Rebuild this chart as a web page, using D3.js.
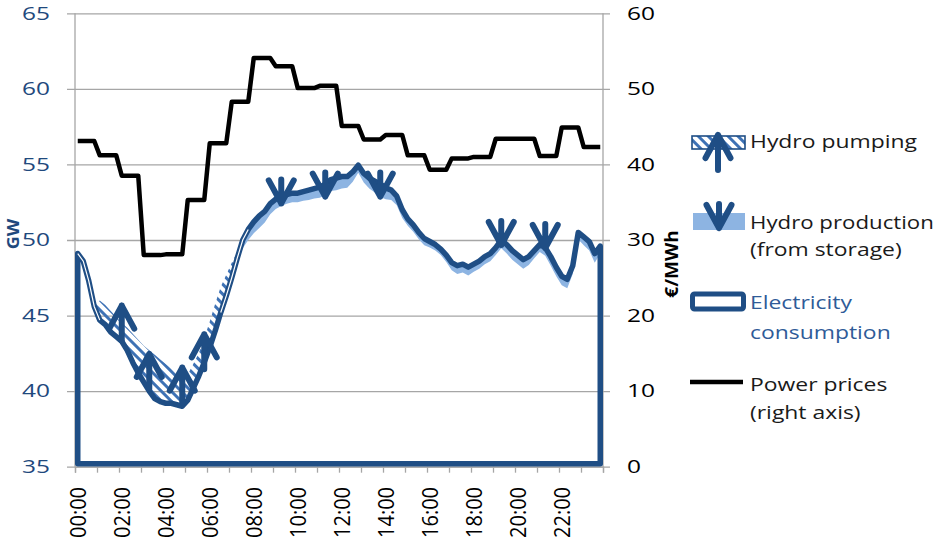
<!DOCTYPE html>
<html><head><meta charset="utf-8">
<script src="https://cdn.jsdelivr.net/npm/d3@7"></script>
<style>
body{margin:0;background:#fff}
svg{display:block}
text{font-family:"Open Sans","Noto Sans",sans-serif}
</style>
</head><body>
<svg id="c" width="937" height="550"></svg>
<script>
// ---------- DATA ----------
const categories = [
"00:00","00:15","00:30","00:45","01:00","01:15","01:30","01:45",
"02:00","02:15","02:30","02:45","03:00","03:15","03:30","03:45",
"04:00","04:15","04:30","04:45","05:00","05:15","05:30","05:45",
"06:00","06:15","06:30","06:45","07:00","07:15","07:30","07:45",
"08:00","08:15","08:30","08:45","09:00","09:15","09:30","09:45",
"10:00","10:15","10:30","10:45","11:00","11:15","11:30","11:45",
"12:00","12:15","12:30","12:45","13:00","13:15","13:30","13:45",
"14:00","14:15","14:30","14:45","15:00","15:15","15:30","15:45",
"16:00","16:15","16:30","16:45","17:00","17:15","17:30","17:45",
"18:00","18:15","18:30","18:45","19:00","19:15","19:30","19:45",
"20:00","20:15","20:30","20:45","21:00","21:15","21:30","21:45",
"22:00","22:15","22:30","22:45","23:00","23:15","23:30","23:45"];

// Electricity consumption (GW)
const consumption = [
49.1,48.6,47.3,45.6,44.7,44.4,43.9,43.6,43.3,42.7,
41.9,41.2,40.6,40.0,39.5,39.3,39.2,39.2,39.1,39.0,
39.4,40.2,41.0,41.9,42.9,44.0,45.2,46.3,47.5,48.8,
50.0,50.7,51.2,51.6,51.9,52.4,52.7,52.9,53.0,53.1,
53.1,53.2,53.3,53.4,53.5,53.7,54.0,54.1,54.2,54.2,
54.5,54.95,54.4,54.1,53.9,53.7,53.45,53.3,52.9,52.0,
51.4,51.0,50.5,50.1,49.9,49.7,49.4,49.0,48.5,48.3,
48.4,48.2,48.4,48.6,48.9,49.1,49.5,50.0,49.7,49.3,
49.0,48.7,48.9,49.3,49.7,49.5,48.9,48.2,47.6,47.4,
48.3,50.5,50.2,49.9,49.1,49.6];

// Hydro production from storage (GW, drawn below consumption)
const hydroProduction = [
0,0,0,0,0,0,0,0,0,0,
0,0,0,0,0,0,0,0,0,0,
0,0,0,0,0,0,0,0,0,0.2,
0.55,0.7,0.75,0.8,0.75,0.7,0.65,0.65,0.6,0.6,
0.6,0.6,0.65,0.65,0.7,0.75,0.75,0.8,0.8,0.75,
0.65,0.5,0.6,0.7,0.75,0.85,0.75,0.65,0.6,0.55,
0.45,0.45,0.45,0.45,0.4,0.4,0.4,0.45,0.5,0.55,
0.55,0.55,0.5,0.5,0.5,0.5,0.5,0.55,0.6,0.6,
0.6,0.6,0.55,0.5,0.5,0.55,0.6,0.6,0.6,0.6,
0.55,0.45,0.55,0.6,0.6,0.5];

// Hydro pumping (GW, drawn above consumption)
const hydroPumping = [
0,0,0,0,1.3,1.3,1.4,1.3,1.2,1.5,
1.9,2.2,2.4,2.7,2.9,2.8,2.6,2.3,2.0,1.8,
1.7,1.6,1.5,1.6,1.7,1.8,1.7,1.4,1.0,0.4,
0,0,0,0,0,0,0,0,0,0,
0,0,0,0,0,0,0,0,0,0,
0,0,0,0,0,0,0,0,0,0,
0,0,0,0,0,0,0,0,0,0,
0,0,0,0,0,0,0,0,0,0,
0,0,0,0,0,0,0,0,0,0,
0,0,0,0,0,0];

// Power prices (EUR/MWh, right axis)
const powerPrices = [
43.1,43.1,43.1,43.1, 41.2,41.2,41.2,41.2, 38.5,38.5,38.5,38.5,
28.0,28.0,28.0,28.0, 28.1,28.1,28.1,28.1, 35.3,35.3,35.3,35.3,
42.8,42.8,42.8,42.8, 48.3,48.3,48.3,48.3, 54.1,54.1,54.1,54.1,
53.0,53.0,53.0,53.0, 50.1,50.1,50.1,50.1, 50.4,50.4,50.4,50.4,
45.1,45.1,45.1,45.1, 43.3,43.3,43.3,43.3, 43.9,43.9,43.9,43.9,
41.2,41.2,41.2,41.2, 39.3,39.3,39.3,39.3, 40.8,40.8,40.8,40.8,
41.0,41.0,41.0,41.0, 43.4,43.4,43.4,43.4, 43.4,43.4,43.4,43.4,
41.1,41.1,41.1,41.1, 44.9,44.9,44.9,44.9, 42.3,42.3,42.3,42.3];

// marker points
const pumpMarkerIdx = [8, 13, 19, 23];
const pumpMarkerGW  = [44.6, 41.4, 40.5, 42.7];
const prodMarkerIdx = [37, 45, 55, 77, 85];
const prodMarkerGW  = [53.15, 53.6, 53.6, 50.4, 50.2];

const leftTicks  = [35,40,45,50,55,60,65];
const rightTicks = [0,10,20,30,40,50,60];
const xLabelEvery = 8;
const xTickEvery = 4;

const legendItems = [
  {key:"pump", lines:["Hydro pumping"]},
  {key:"prod", lines:["Hydro production","(from storage)"]},
  {key:"cons", lines:["Electricity","consumption"]},
  {key:"price", lines:["Power prices","(right axis)"]}
];

// ---------- STYLE ----------
const DARK = "#1F4E85", LIGHT = "#8DB4E2", HATCH = "#3E72B5", GRID = "#A6A6A6";
const AXISBLUE = "#1F497D";

const svg = d3.select("#c");
const x = d3.scaleBand().domain(categories).range([75, 603]);
const xc = c => x(c) + x.bandwidth() / 2;
const xi = i => xc(categories[i]);
const xEdge = d3.scaleLinear().domain([0, categories.length]).range([75, 603]);
const yL = d3.scaleLinear().domain([35, 65]).range([466.7, 13.3]);
const yR = d3.scaleLinear().domain([0, 60]).range([466.7, 13.3]);

function measure(s, size, weight) {
  const t = svg.append("text").text(s).style("font-size", size + "px").style("font-weight", weight || 400);
  const w = t.node().getComputedTextLength();
  t.remove();
  return w;
}
// horizontal stretch factors (reference is rendered wide)
const LEG_SIZE = 19, TICK_SIZE = 17.5;
const legSx = 167 / measure("Hydro pumping", LEG_SIZE);
const tickSx = 28 / measure("65", TICK_SIZE);

function txt(g, tx, ty, s, o) {
  let sx = o.sx || 1;
  if (o.maxW) {
    const w = measure(s, o.size, o.weight) * sx;
    if (w > o.maxW) sx *= o.maxW / w;
  }
  const gg = g.append("g").attr("transform",
    `translate(${tx},${ty}) scale(${sx},1)` + (o.rot ? ` rotate(${o.rot})` : ""));
  return gg.append("text").text(s)
    .attr("text-anchor", o.anchor || "start")
    .attr("dy", o.dy || 0)
    .style("font-size", o.size + "px")
    .style("font-weight", o.weight || 400)
    .attr("fill", o.fill || "#000");
}

const defs = svg.append("defs");
const pat = defs.append("pattern").attr("id", "hatch")
  .attr("patternUnits", "userSpaceOnUse").attr("width", 7).attr("height", 7)
  .attr("patternTransform", "rotate(45)");
pat.append("rect").attr("width", 7).attr("height", 3).attr("fill", HATCH);

// gridlines with outer tick extensions
const grid = svg.append("g").attr("transform", "translate(610,0)")
  .call(d3.axisLeft(yL).tickValues(leftTicks).tickSize(543).tickFormat(""));
grid.select(".domain").remove();
grid.selectAll("line").attr("stroke", GRID).attr("stroke-width", 1.3);

// axis lines
svg.append("line").attr("x1", 75).attr("x2", 75).attr("y1", yL(65)).attr("y2", yL(35))
  .attr("stroke", GRID).attr("stroke-width", 1.3);
svg.append("line").attr("x1", 603).attr("x2", 603).attr("y1", yL(65)).attr("y2", yL(35))
  .attr("stroke", GRID).attr("stroke-width", 1.3);

// x axis ticks at hour boundaries
const xa = svg.append("g").attr("transform", `translate(0,${yL(35)})`)
  .call(d3.axisBottom(xEdge).tickValues(d3.range(0, categories.length + 1, xTickEvery)).tickSize(6).tickFormat(""));
xa.select(".domain").attr("stroke", GRID).attr("stroke-width", 1.3);
xa.selectAll("line").attr("stroke", GRID).attr("stroke-width", 1.3);

// tick labels
leftTicks.forEach(v => txt(svg, 50, yL(v), v, {anchor:"end", dy:"0.36em", size:TICK_SIZE, sx:tickSx, fill:AXISBLUE}));
rightTicks.forEach(v => txt(svg, 627, yR(v), v, {anchor:"start", dy:"0.36em", size:TICK_SIZE, sx:tickSx, fill:"#000"}));
categories.forEach((c, i) => {
  if (i % xLabelEvery === 0)
    txt(svg, xc(c), 487, c, {anchor:"end", dy:"0.36em", size:20, rot:-90, sx:1.1, fill:"#000"});
});

// axis titles
txt(svg, 13, 234, "GW", {anchor:"middle", dy:"0.36em", size:18, weight:700, sx:0.85, rot:-90, fill:AXISBLUE});
txt(svg, 672, 264, "€/MWh", {anchor:"middle", dy:"0.36em", size:19, weight:700, sx:0.95, rot:-90, fill:"#000"});

// ---------- SERIES ----------
const plot = svg.append("g");

// hydro pumping (hatched, above consumption)
plot.append("path").datum(consumption)
  .attr("d", d3.area().x((d, i) => xi(i)).y0(d => yL(d)).y1((d, i) => yL(d + hydroPumping[i])))
  .attr("fill", "url(#hatch)");

// hydro production (light blue, below consumption)
plot.append("path").datum(consumption)
  .attr("d", d3.area().x((d, i) => xi(i)).y0((d, i) => yL(d - hydroProduction[i])).y1(d => yL(d)))
  .attr("fill", LIGHT);

// consumption area outline
plot.append("path").datum(consumption)
  .attr("d", d3.area().x((d, i) => xi(i)).y0(yL(35) - 3).y1(d => yL(d)))
  .attr("fill", "none").attr("stroke", DARK).attr("stroke-width", 5.5).attr("stroke-linejoin", "round");

// double-line highlight where the two outlines separate
const doubleSpans = [[0, 4], [26, 31]];
doubleSpans.forEach(([a, b]) => {
  plot.append("path").datum(consumption.slice(a, b + 1))
    .attr("d", d3.line().x((d, i) => xi(a + i)).y(d => yL(d)))
    .attr("fill", "none").attr("stroke", "#fff").attr("stroke-width", 1.2);
});

// markers
const upArrow = "M0,-16 L0,19 M-12.5,7 L0,-16 L12.5,7";
const downArrow = "M0,-13 L0,11 M-12.5,-12 L0,11 L12.5,-12";
function marker(g, px, py, dpath) {
  g.append("path").attr("d", dpath).attr("transform", `translate(${px},${py})`)
    .attr("fill", "none").attr("stroke", DARK).attr("stroke-width", 6)
    .attr("stroke-linecap", "round").attr("stroke-linejoin", "round");
}
pumpMarkerIdx.forEach((idx, k) => marker(plot, xi(idx), yL(pumpMarkerGW[k]), upArrow));
prodMarkerIdx.forEach((idx, k) => marker(plot, xi(idx), yL(prodMarkerGW[k]), downArrow));

// power prices
plot.append("path").datum(powerPrices)
  .attr("d", d3.line().x((d, i) => xi(i)).y(d => yR(d)))
  .attr("fill", "none").attr("stroke", "#000").attr("stroke-width", 4.5)
  .attr("stroke-linejoin", "round");

// ---------- LEGEND ----------
const lg = svg.append("g");
const legendBaselines = {pump:[148], prod:[229, 256], cons:[309, 339], price:[391, 419]};
lg.append("rect").attr("x", 692).attr("y", 136).attr("width", 53).attr("height", 13)
  .attr("fill", "url(#hatch)").attr("stroke", DARK).attr("stroke-width", 1.6);
marker(lg, 718, 151, upArrow);
lg.append("rect").attr("x", 693).attr("y", 213).attr("width", 52).attr("height", 17).attr("fill", LIGHT);
marker(lg, 719, 217, downArrow);
lg.append("rect").attr("x", 692.5).attr("y", 294).attr("width", 51).attr("height", 15)
  .attr("rx", 2).attr("fill", "#fff").attr("stroke", DARK).attr("stroke-width", 5);
lg.append("line").attr("x1", 690).attr("x2", 743).attr("y1", 382).attr("y2", 382)
  .attr("stroke", "#000").attr("stroke-width", 4.5);
legendItems.forEach(it => {
  it.lines.forEach((ln, j) => {
    txt(lg, 750, legendBaselines[it.key][j], ln,
      {size:LEG_SIZE, sx:legSx, maxW:184, fill: it.key === "cons" ? "#2F5B98" : "#1a1a1a"});
  });
});
</script>
</body></html>
